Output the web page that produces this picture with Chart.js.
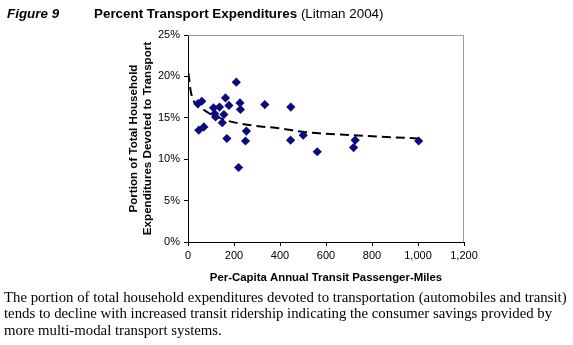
<!DOCTYPE html>
<html>
<head>
<meta charset="utf-8">
<script src="https://cdn.jsdelivr.net/npm/chart.js@4/dist/chart.umd.min.js"></script>
<style>
  html, body { margin: 0; padding: 0; background: #fff; width: 573px; height: 345px; overflow: hidden; }
  #title { position: absolute; left: 7px; top: 6px; font-family: "Liberation Sans", Arial, sans-serif; font-size: 13.4px; color: #000; white-space: nowrap; }
  #title .fig { font-weight: bold; font-style: italic; position: absolute; left: 0; }
  #title .main { position: absolute; left: 87px; }
  #wrap { position: absolute; left: 0; top: 0; width: 573px; height: 290px; }
  #caption { position: absolute; left: 4px; top: 289px; font-family: "Liberation Serif", "Times New Roman", serif; font-size: 14.8px; line-height: 16.4px; color: #000; white-space: nowrap; }
</style>
</head>
<body>
<div id="wrap"><canvas id="c" width="573" height="290"></canvas></div>
<div id="title"><span class="fig">Figure 9</span><span class="main"><b>Percent Transport Expenditures</b> (Litman 2004)</span></div>
<div id="caption">The portion of total household expenditures devoted to transportation (automobiles and transit)<br>tends to decline with increased transit ridership indicating the consumer savings provided by<br>more multi-modal transport systems.</div>
<script>
// Per-capita annual transit passenger-miles (x) and % of household expenditures on transport (y)
const transitMiles = [43, 60, 47, 69, 111, 116, 120, 137, 149, 156, 163, 178, 169, 210, 226, 228, 254, 250, 220, 334, 447, 446, 501, 562, 727, 720, 1003];
const transportPct = [16.7, 17.0, 13.5, 13.9, 16.2, 15.5, 15.1, 16.3, 14.4, 15.4, 17.4, 16.5, 12.5, 19.3, 16.8, 16.0, 13.4, 12.2, 9.0, 16.6, 16.3, 12.3, 12.9, 10.9, 12.3, 11.4, 12.2];
// Trend line
const trendMiles = [2, 14, 72, 166, 275, 406, 500, 718, 1000];
const trendPct = [20.4, 17.9, 15.9, 14.7, 14.1, 13.7, 13.3, 12.9, 12.5];
// Axis ticks
const xTicks = [0, 200, 400, 600, 800, 1000, 1200];
const yTicks = [0, 5, 10, 15, 20, 25];

const scatterData = transitMiles.map((x, i) => ({ x: x, y: transportPct[i] }));
const trendData = trendMiles.map((x, i) => ({ x: x, y: trendPct[i] }));

const framePlugin = {
  id: 'frame',
  beforeDatasetsDraw(chart) {
    const { ctx, chartArea: a } = chart;
    ctx.save();
    ctx.strokeStyle = '#9a9a9a';
    ctx.lineWidth = 1;
    ctx.beginPath();
    ctx.moveTo(a.left, a.top + 0.5);
    ctx.lineTo(a.right - 0.5, a.top + 0.5);
    ctx.lineTo(a.right - 0.5, a.bottom);
    ctx.stroke();
    ctx.restore();
  }
};

const font = { family: '"Liberation Sans", Arial, sans-serif', size: 11 };

new Chart(document.getElementById('c'), {
  type: 'scatter',
  data: {
    datasets: [
      {
        type: 'line',
        data: trendData,
        borderColor: '#000',
        borderWidth: 2,
        borderDash: [9, 5],
        pointRadius: 0,
        fill: false,
        tension: 0.4,
        cubicInterpolationMode: 'monotone',
        order: 2
      },
      {
        data: scatterData,
        pointStyle: 'rectRot',
        pointRadius: 4.6,
        pointHoverRadius: 4.6,
        backgroundColor: '#0b0b80',
        borderColor: '#0b0b80',
        borderWidth: 0,
        order: 1
      }
    ]
  },
  options: {
    responsive: false,
    animation: false,
    events: [],
    layout: { padding: { left: 0, top: 35, right: 109, bottom: 0 } },
    plugins: { legend: { display: false }, tooltip: { enabled: false } },
    scales: {
      x: {
        type: 'linear',
        min: 0, max: 1200,
        afterFit(s) { s.height = 48; },
        afterBuildTicks(s) { s.ticks = xTicks.map(v => ({ value: v })); },
        grid: { drawOnChartArea: false, drawTicks: true, tickLength: 4, color: '#000' },
        border: { display: true, color: '#000', width: 1 },
        ticks: { color: '#000', font: font, padding: 3, maxRotation: 0,
          callback: v => v.toLocaleString('en-US') },
        title: { display: true, text: 'Per-Capita Annual Transit Passenger-Miles', color: '#000',
          font: { family: font.family, size: 11.4, weight: 'bold' }, padding: { top: 0, bottom: 5 } }
      },
      y: {
        type: 'linear',
        min: 0, max: 25,
        afterFit(s) { s.width = 188; },
        afterBuildTicks(s) { s.ticks = yTicks.map(v => ({ value: v })); },
        grid: { drawOnChartArea: false, drawTicks: true, tickLength: 4, color: '#000' },
        border: { display: true, color: '#000', width: 1 },
        ticks: { color: '#000', font: font, padding: 4, callback: v => v + '%' },
        title: { display: true, text: ['Portion of Total Household', 'Expenditures Devoted to Transport'], color: '#000',
          font: { family: font.family, size: 11.6, weight: 'bold', lineHeight: 1.15 }, padding: { top: 127.3, bottom: 0 } }
      }
    }
  },
  plugins: [framePlugin]
});
</script>
</body>
</html>
